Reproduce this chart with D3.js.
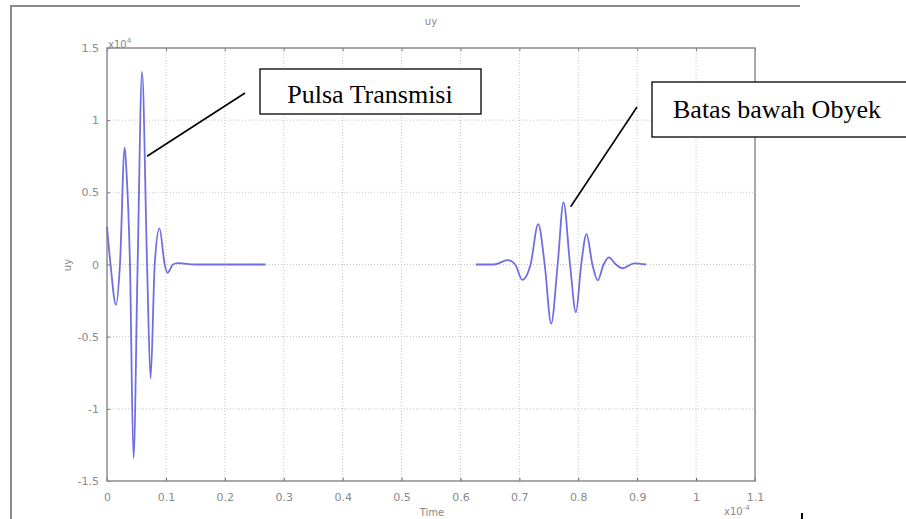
<!DOCTYPE html>
<html>
<head>
<meta charset="utf-8">
<script src="https://cdn.jsdelivr.net/npm/d3@7"></script>
<style>
  body { margin: 0; background: #fff; }
  svg { display: block; }
  .tick text { fill: #8a8a8a; font-family: "DejaVu Sans", sans-serif; font-size: 11px; }
  .grid line { stroke: #c4c4c4; stroke-dasharray: 1,2; }
  .callout text { font-family: "Liberation Serif", "Times New Roman", serif; font-size: 26px; fill: #000; }
</style>
</head>
<body>
<div id="chart-area"></div>
<script>
var width = 906;
var height = 519;
var margin = {top: 48, right: 151, bottom: 38, left: 107};

// time (x10^-4) and uy (x10^4)
var pulseTime = [0, 0.006, 0.0153, 0.022, 0.030, 0.033, 0.039, 0.045, 0.052, 0.0595, 0.068, 0.074,
                 0.081, 0.089, 0.098, 0.1026, 0.112, 0.12, 0.15, 0.18, 0.21, 0.24, 0.269];
var pulseUy = [0.26, 0.0, -0.28, 0.0, 0.81, 0.65, 0.0, -1.34, 0.0, 1.335, 0.0, -0.79,
               0.0, 0.25, 0.0, -0.057, 0.0, 0.01, 0.0, 0.0, 0.0, 0.0, 0.0];

var echoTime = [0.626, 0.657, 0.680, 0.693, 0.705, 0.719, 0.732, 0.743, 0.754, 0.765, 0.775, 0.786,
                0.796, 0.805, 0.814, 0.824, 0.833, 0.843, 0.852, 0.864, 0.875, 0.895, 0.915];
var echoUy = [0.0, 0.0, 0.03, 0.0, -0.107, 0.0, 0.28, 0.0, -0.41, 0.0, 0.43, 0.0,
              -0.33, 0.0, 0.21, 0.0, -0.11, 0.0, 0.05, 0.0, -0.026, 0.008, 0.0];

var xTicks = [0, 0.1, 0.2, 0.3, 0.4, 0.5, 0.6, 0.7, 0.8, 0.9, 1, 1.1];
var yTicks = [-1.5, -1, -0.5, 0, 0.5, 1, 1.5];

var callouts = [
  {label: "Pulsa Transmisi", t: 0.068, v: 0.75},
  {label: "Batas bawah Obyek", t: 0.787, v: 0.40}
];

var svg = d3.select("#chart-area")
  .append("svg")
  .attr("width", width)
  .attr("height", height);

// outer frame of the figure
svg.append("path")
  .attr("d", "M11,519 V6 H800")
  .attr("fill", "none")
  .attr("stroke", "#8a8a8a")
  .attr("stroke-width", 2);

var x = d3.scaleLinear()
  .domain([0, 1.1])
  .range([margin.left, width - margin.right]);

var y = d3.scaleLinear()
  .domain([-1.5, 1.5])
  .range([height - margin.bottom, margin.top]);

//grid
svg.append("g")
  .attr("class", "grid")
  .selectAll("line.gx")
  .data(xTicks.slice(1, -1))
  .enter().append("line")
  .attr("x1", function(d) { return x(d); })
  .attr("x2", function(d) { return x(d); })
  .attr("y1", y(1.5))
  .attr("y2", y(-1.5));

svg.append("g")
  .attr("class", "grid")
  .selectAll("line.gy")
  .data(yTicks.slice(1, -1))
  .enter().append("line")
  .attr("x1", x(0))
  .attr("x2", x(1.1))
  .attr("y1", function(d) { return y(d); })
  .attr("y2", function(d) { return y(d); });

//axes (plain hyphen minus like the original)
var plain = function(d) { return String(d); };

var xAxis = d3.axisBottom(x)
  .tickValues(xTicks)
  .tickSize(-3)
  .tickPadding(12)
  .tickFormat(plain);

var xAxisTop = d3.axisTop(x)
  .tickValues(xTicks)
  .tickSize(-3)
  .tickFormat("");

var yAxis = d3.axisLeft(y)
  .tickValues(yTicks)
  .tickSize(-3)
  .tickPadding(8)
  .tickFormat(plain);

var gx = svg.append("g")
  .attr("transform", "translate(0," + y(-1.5) + ")")
  .call(xAxis);
gx.select(".domain").remove();
gx.selectAll(".tick line").attr("stroke", "#555");

var gxt = svg.append("g")
  .attr("transform", "translate(0," + y(1.5) + ")")
  .call(xAxisTop);
gxt.select(".domain").remove();
gxt.selectAll(".tick line").attr("stroke", "#777");

var gy = svg.append("g")
  .attr("transform", "translate(" + x(0) + ",0)")
  .call(yAxis);
gy.select(".domain").remove();
gy.selectAll(".tick line").attr("stroke", "#777");

// plot box
svg.append("rect")
  .attr("x", x(0))
  .attr("y", y(1.5))
  .attr("width", x(1.1) - x(0))
  .attr("height", y(-1.5) - y(1.5))
  .attr("fill", "none")
  .attr("stroke", "#8c8c8c")
  .attr("stroke-width", 1.5);

// waveforms
var line = d3.line()
  .x(function(d) { return x(d[0]); })
  .y(function(d) { return y(d[1]); })
  .curve(d3.curveMonotoneX);

var pulse = pulseTime.map(function(t, i) { return [t, pulseUy[i]]; });
var echo = echoTime.map(function(t, i) { return [t, echoUy[i]]; });

svg.selectAll("path.wave")
  .data([pulse, echo])
  .enter().append("path")
  .attr("class", "wave")
  .attr("d", line)
  .attr("fill", "none")
  .attr("stroke", "#6f6fe2")
  .attr("stroke-width", 1.8)
  .attr("stroke-linejoin", "round");

// labels
var labelStyle = function(sel) {
  sel.attr("fill", "#888")
    .attr("font-family", "DejaVu Sans, sans-serif")
    .attr("font-size", 10);
};

svg.append("text").attr("x", 431).attr("y", 25).attr("text-anchor", "middle").text("uy").call(labelStyle);
svg.append("text").attr("transform", "translate(71,265) rotate(-90)").attr("text-anchor", "middle").text("uy").call(labelStyle);
svg.append("text").attr("x", 432).attr("y", 516).attr("text-anchor", "middle").text("Time").call(labelStyle);

var e1 = svg.append("text").attr("x", 108).attr("y", 48).call(labelStyle);
e1.append("tspan").text("x10");
e1.append("tspan").attr("dy", -5).attr("font-size", 7).text("4");

var e2 = svg.append("text").attr("x", 724).attr("y", 515).call(labelStyle);
e2.append("tspan").text("x10");
e2.append("tspan").attr("dy", -5).attr("font-size", 7).text("-4");

// callouts
var boxes = [
  {x: 260, y: 69, w: 221, h: 45, lx: 245, ly: 93, tx: 370, ty: 103, anchor: "middle"},
  {x: 652, y: 82, w: 260, h: 55, lx: 637, ly: 107, tx: 673, ty: 118, anchor: "start"}
];

var cg = svg.selectAll("g.callout")
  .data(callouts)
  .enter().append("g")
  .attr("class", "callout");

cg.append("line")
  .attr("x1", function(d, i) { return boxes[i].lx; })
  .attr("y1", function(d, i) { return boxes[i].ly; })
  .attr("x2", function(d) { return x(d.t); })
  .attr("y2", function(d) { return y(d.v); })
  .attr("stroke", "#000")
  .attr("stroke-width", 1.6);

cg.append("rect")
  .attr("x", function(d, i) { return boxes[i].x; })
  .attr("y", function(d, i) { return boxes[i].y; })
  .attr("width", function(d, i) { return boxes[i].w; })
  .attr("height", function(d, i) { return boxes[i].h; })
  .attr("fill", "#fff")
  .attr("stroke", "#000")
  .attr("stroke-width", 1.3);

cg.append("text")
  .attr("x", function(d, i) { return boxes[i].tx; })
  .attr("y", function(d, i) { return boxes[i].ty; })
  .attr("text-anchor", function(d, i) { return boxes[i].anchor; })
  .text(function(d) { return d.label; });

// stray mark at bottom right
svg.append("line")
  .attr("x1", 802).attr("x2", 802)
  .attr("y1", 513).attr("y2", 519)
  .attr("stroke", "#000")
  .attr("stroke-width", 2);
</script>
</body>
</html>
